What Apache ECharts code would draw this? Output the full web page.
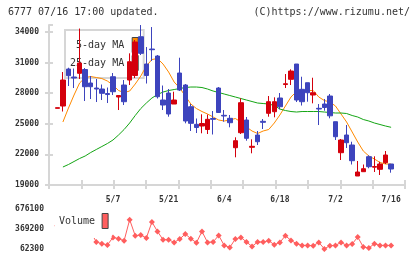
<!doctype html>
<html lang="">
<head>
    <meta charset="utf-8">
    <title>6777 chart</title>
    <script src="https://cdn.jsdelivr.net/npm/echarts@6/dist/echarts.min.js"></script>
    <style>
        html, body { margin: 0; padding: 0; background: #fff; }
        #main { width: 420px; height: 259px; }
    </style>
</head>
<body>
    <div id="main"></div>
    <script type="text/javascript">
    // trading days shown on the chart
    var dates = ['4/18','4/21','4/22','4/23','4/24','4/25','4/28','4/30','5/1','5/2',
                 '5/7','5/8','5/9','5/12','5/13','5/14','5/15','5/16','5/19','5/20',
                 '5/21','5/22','5/23','5/26','5/27','5/28','5/29','5/30','6/2','6/3',
                 '6/4','6/5','6/6','6/9','6/10','6/11','6/12','6/13','6/16','6/17',
                 '6/18','6/19','6/20','6/23','6/24','6/25','6/26','6/27','6/30','7/1',
                 '7/2','7/3','7/4','7/7','7/8','7/9','7/10','7/11','7/14','7/15','7/16'];
    var dateTicks = ['5/7','5/21','6/4','6/18','7/2','7/16'];

    var opens  = [26520,26745,30373,29588,29951,30324,29000,28510,28412,27971,
                  29618,27627,28804,29294,29735,33539,30863,32333,31647,27333,
                  28020,26941,29980,28804,26676,24951,24784,24441,25520,28510,
                  25833,25539,22657,24128,25373,22696,23902,25245,26030,26186,
                  27530,28853,29363,30863,28382,29029,27824,26520,26941,27726,
                  25206,22167,23902,22922,19882,20304,21775,20745,20539,21186,21059];
    var closes = [26580,29294,29716,29490,30961,28637,28637,28412,27990,27873,
                  28147,27775,27167,31088,33020,31912,29735,32265,27657,26843,
                  25961,27333,28314,25275,25049,24637,25029,25441,25441,26108,
                  25765,25108,23343,27069,23578,22794,23245,25147,27167,27167,
                  26676,28931,30176,27333,27167,28049,28049,26451,26598,25784,
                  23735,23412,23147,21382,20274,20598,20794,20814,21059,21941,20569];
    var lows   = [26520,26206,28706,28510,29392,27235,27431,27137,27333,27039,
                  27824,26353,26843,28804,29490,31745,28951,31157,27480,26353,
                  25696,26941,28216,25049,24294,24098,24069,24000,23951,26059,
                  25206,24657,21716,24000,23343,22108,22922,24490,25696,25637,
                  26421,28510,28804,27137,26794,27167,27010,24882,26284,25539,
                  23412,21451,22627,21010,19882,20304,20637,20274,19980,21059,20206];
    var highs  = [26580,30078,30500,30422,34343,30471,29686,29392,28853,28559,
                  29980,27775,29294,31912,33216,34686,32529,34490,31745,28755,
                  28412,28147,31480,28902,26941,25520,25932,25912,26255,28608,
                  26353,25863,23677,27500,25667,23480,24294,25471,27726,27598,
                  28020,29882,30343,30863,29618,29029,29520,26941,27431,27922,
                  25206,23510,24882,23245,21353,21010,21912,21814,21284,22333,21059];

    var ma5  = [null,25177,26549,27823,29000,29539,29637,29539,29441,29196,
                28804,28265,28069,28216,28902,29686,30667,31304,31402,30863,
                30078,29098,28510,27725,26941,26500,26206,25961,25667,25373,
                25275,25373,25520,25177,24686,24294,24049,24294,24441,25079,
                25863,26745,27627,28167,28216,28265,28265,27627,27284,27137,
                26745,25961,25177,24196,23216,22333,21843,21549,21206,21059,21059];
    var ma25 = [null,20765,21010,21304,21598,21843,22186,22480,22774,23069,
                23412,23902,24441,25079,25814,26500,27039,27529,27872,28117,
                28264,28363,28461,28559,28608,28608,28559,28412,28216,28069,
                27922,27774,27627,27480,27333,27186,27039,26990,26941,26794,
                26451,26304,26206,26157,26206,26206,26206,26206,26157,26108,
                26059,26059,26010,25814,25667,25422,25275,25079,24932,24784,24657];

    var volumes = [420000,365000,450000,380000,400000,350000,328000,170000,143600,123700,
                   240300,220400,189700,511900,266400,277100,231100,476600,332400,205000,
                   205000,163600,215800,292500,220400,159000,332400,163600,169700,271000,
                   117500,86900,215800,240300,169700,102200,169700,169700,189700,128300,
                   163600,266400,194300,143600,117500,117500,112900,163600,64000,112900,
                   117500,163600,117500,139000,246400,93000,77600,143600,117500,117500,117500];

    var UP = '#d4000c', DOWN = '#3d44bd', MA5C = '#ff8a00', MA25C = '#14a514', VOLC = '#ff5e5e';
    var MONO = '"DejaVu Sans Mono", monospace';
    var AXISC = '#d6d6d6';

    // one empty slot before the first day and two after the last
    var cats = [''].concat(dates, ['', '']);
    var gap = ['-', '-', '-', '-'];

    var candleData = [gap].concat(dates.map(function(d, i) {
        return [opens[i], closes[i], lows[i], highs[i]];
    }), [gap, gap]);
    function padded(arr) {
        return ['-'].concat(arr.map(function(v) { return v == null ? '-' : v; }), ['-', '-']);
    }

    var smallLabel = { fontFamily: MONO, fontSize: 8, fontWeight: 'bold', color: '#333' };
    function plain(v) { return String(v); }

    var myChart = echarts.init(document.getElementById('main'), null, { renderer: 'canvas' });

    var option = {
        animation: false,
        backgroundColor: '#fff',
        title: [
            { text: '6777 07/16 17:00 updated.', left: 8, top: 7, padding: 0,
              textStyle: { fontFamily: MONO, fontSize: 10, fontWeight: 'normal', color: '#333' } },
            { text: '(C)https://www.rizumu.net/', right: 10, top: 7, padding: 0,
              textStyle: { fontFamily: MONO, fontSize: 10, fontWeight: 'normal', color: '#333' } }
        ],
        legend: [{
            data: ['5-day MA', '25-day MA'],
            orient: 'vertical',
            left: 65, top: 30,
            align: 'right',
            icon: 'rect',
            itemWidth: 6, itemHeight: 15, itemGap: 2,
            padding: [7, 5, 7, 5],
            borderColor: AXISC, borderWidth: 2,
            z: 1,
            selectedMode: false,
            itemStyle: { borderColor: '#444', borderWidth: 1 },
            formatter: function(name) { return name === '5-day MA' ? ' ' + name : name; },
            textStyle: { fontFamily: MONO, fontSize: 10, color: '#333', padding: [0, 3, 0, 0] }
        }, {
            data: ['Volume'],
            left: 55, top: 209,
            align: 'right',
            icon: 'rect',
            itemWidth: 6, itemHeight: 15,
            padding: [4, 3, 9, 4],
            backgroundColor: '#fff',
            z: 6,
            selectedMode: false,
            itemStyle: { borderColor: '#444', borderWidth: 1 },
            textStyle: { fontFamily: MONO, fontSize: 10, color: '#333', padding: [0, 2, 0, 0] }
        }],
        grid: [
            { left: 49, right: 15, top: 25, height: 160 },
            { left: 49, right: 15, top: 209, height: 40 }
        ],
        xAxis: [{
            type: 'category', gridIndex: 0, data: cats, boundaryGap: true, position: 'bottom',
            axisLine: { show: false }, axisTick: { show: false }, splitLine: { show: false },
            axisLabel: Object.assign({
                interval: 0, margin: 11, hideOverlap: false,
                formatter: function(v) { return dateTicks.indexOf(v) >= 0 ? v : ''; }
            }, smallLabel)
        }, {
            type: 'value', gridIndex: 0, min: 0, max: 11, interval: 1, position: 'bottom',
            axisLine: { show: true, lineStyle: { color: AXISC, width: 2 } },
            axisTick: { show: true, inside: true, length: 5, lineStyle: { color: AXISC, width: 2 } },
            axisLabel: { show: false }, splitLine: { show: false }
        }, {
            type: 'value', gridIndex: 0, min: 0, max: 11, interval: 1, position: 'bottom',
            axisLine: { show: false },
            axisTick: { show: true, length: 4, lineStyle: { color: AXISC, width: 2 } },
            axisLabel: { show: false }, splitLine: { show: false }
        }, {
            type: 'category', gridIndex: 1, data: cats, boundaryGap: true, show: false
        }],
        yAxis: [{
            type: 'value', gridIndex: 0, min: 19000, max: 34690, interval: 3000, position: 'left',
            axisLine: { show: true, lineStyle: { color: AXISC, width: 2 } },
            axisTick: { show: true, length: 4, lineStyle: { color: AXISC, width: 2 } },
            axisLabel: Object.assign({ margin: 10, showMaxLabel: false, formatter: plain }, smallLabel),
            splitLine: { show: false }
        }, {
            type: 'value', gridIndex: 0, min: 19000, max: 34690, interval: 3000, position: 'left',
            axisLine: { show: false },
            axisTick: { show: true, inside: true, length: 4, lineStyle: { color: AXISC, width: 2 } },
            axisLabel: { show: false }, splitLine: { show: false }
        }, {
            type: 'value', gridIndex: 1, min: 62300, max: 676100, interval: 306900, position: 'left',
            axisLine: { show: false }, axisTick: { show: false },
            axisLabel: Object.assign({ margin: 5, formatter: plain }, smallLabel),
            splitLine: { show: false }
        }],
        series: [{
            name: 'price', type: 'candlestick',
            xAxisIndex: 0, yAxisIndex: 0,
            barWidth: 5,
            data: candleData,
            z: 3,
            itemStyle: { color: UP, color0: DOWN, borderColor: UP, borderColor0: DOWN, borderWidth: 1 }
        }, {
            name: '5-day MA', type: 'line',
            xAxisIndex: 0, yAxisIndex: 0,
            data: padded(ma5),
            showSymbol: false, symbol: 'none',
            color: MA5C,
            lineStyle: { color: MA5C, width: 1 },
            z: 2
        }, {
            name: '25-day MA', type: 'line',
            xAxisIndex: 0, yAxisIndex: 0,
            data: padded(ma25),
            showSymbol: false, symbol: 'none',
            color: MA25C,
            lineStyle: { color: MA25C, width: 1 },
            z: 2
        }, {
            name: 'Volume', type: 'line',
            xAxisIndex: 3, yAxisIndex: 2,
            data: padded(volumes),
            symbol: 'diamond', symbolSize: 6,
            showAllSymbol: true,
            color: VOLC,
            itemStyle: { color: VOLC },
            lineStyle: { color: VOLC, width: 1 },
            z: 2
        }]
    };

    myChart.setOption(option);
    </script>
</body>
</html>
